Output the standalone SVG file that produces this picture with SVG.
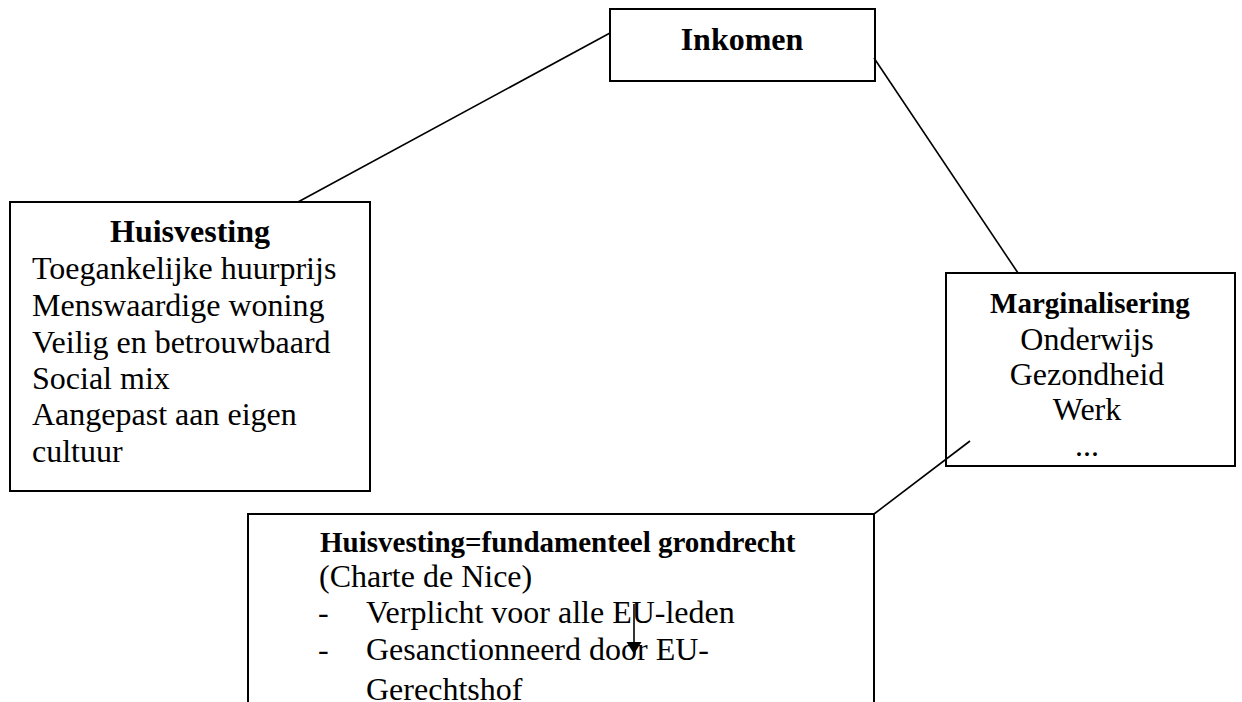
<svg xmlns="http://www.w3.org/2000/svg" width="1242" height="702" viewBox="0 0 1242 702">
<style>
.box{fill:#fff;stroke:#000;stroke-width:2}
.t{font-family:"Liberation Serif","Times New Roman",serif;font-size:32px;fill:#000}
.b{font-weight:bold}
.c{text-anchor:middle}
.conn{stroke:#000;stroke-width:1.6;fill:none}
</style>
<defs>
<marker id="ah" viewBox="0 0 10 10" refX="10" refY="5" markerWidth="12" markerHeight="15" markerUnits="userSpaceOnUse" orient="auto" preserveAspectRatio="none">
<path d="M0,0 L10,5 L0,10 z" fill="#000"/>
</marker>
</defs>
<rect width="1242" height="702" fill="#fff"/>
<g id="inkomen">
<rect class="box" x="610" y="9" width="265" height="72"/>
<text class="t b c" x="742" y="50">Inkomen</text>
</g>
<g id="huisvesting">
<rect class="box" x="10" y="202" width="360" height="289"/>
<text class="t b c" x="190" y="242">Huisvesting</text>
<text class="t" x="32" y="279">Toegankelijke huurprijs</text>
<text class="t" x="32" y="316">Menswaardige woning</text>
<text class="t" x="32" y="353">Veilig en betrouwbaard</text>
<text class="t" x="32" y="389">Social mix</text>
<text class="t" x="32" y="425">Aangepast aan eigen</text>
<text class="t" x="32" y="462">cultuur</text>
</g>
<g id="marginalisering">
<rect class="box" x="946" y="273" width="289" height="193"/>
<text class="t b c" x="1090" y="313" style="font-size:29px">Marginalisering</text>
<text class="t c" x="1087" y="350">Onderwijs</text>
<text class="t c" x="1087" y="385">Gezondheid</text>
<text class="t c" x="1087" y="420">Werk</text>
<text class="t c" x="1087" y="456">...</text>
</g>
<g id="grondrecht">
<rect class="box" x="248" y="514" width="626" height="220"/>
<text class="t b" x="320" y="552" style="font-size:29px">Huisvesting=fundamenteel grondrecht</text>
<text class="t" x="319" y="587">(Charte de Nice)</text>
<text class="t" x="318" y="623">-</text>
<text class="t" x="366" y="623">Verplicht voor alle EU-leden</text>
<text class="t" x="318" y="660">-</text>
<text class="t" x="366" y="660">Gesanctionneerd door EU-</text>
<text class="t" x="366" y="700">Gerechtshof</text>
</g>
<g id="connectors">
<line class="conn" x1="298" y1="202" x2="610" y2="33"/>
<line class="conn" x1="874" y1="58" x2="1018" y2="273"/>
<line class="conn" x1="970" y1="441" x2="874" y2="514"/>
<line class="conn" x1="634" y1="604" x2="634" y2="643"/>
<path d="M626.5,642 L641.5,642 L634,654 z" fill="#000"/>
</g>
</svg>
